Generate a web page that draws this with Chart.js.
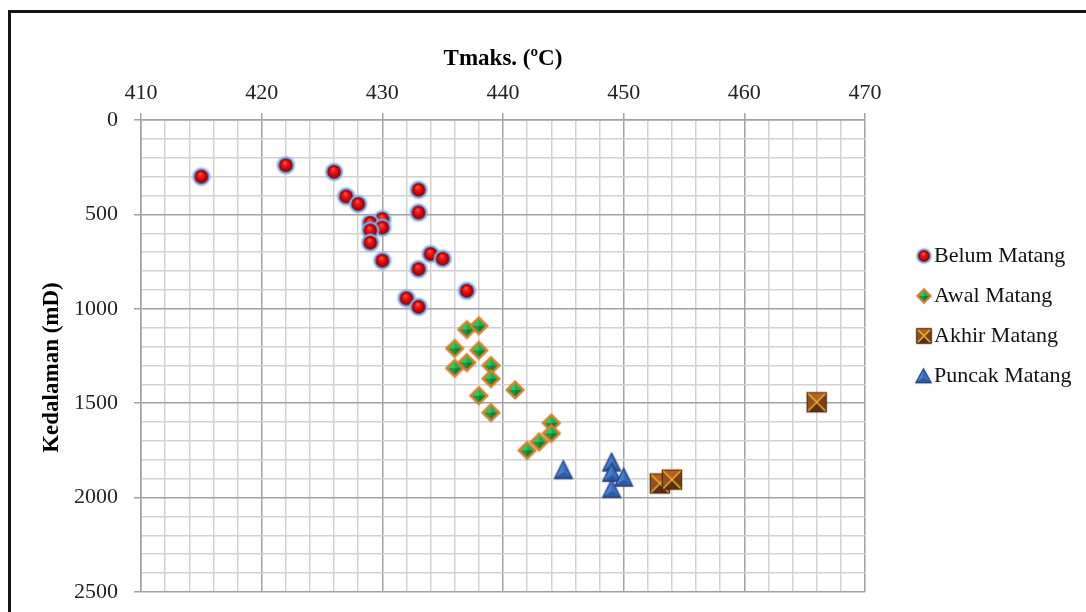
<!DOCTYPE html>
<html>
<head>
<meta charset="utf-8">
<script src="https://cdn.jsdelivr.net/npm/chart.js@4/dist/chart.umd.min.js"></script>
<style>
  html, body { margin: 0; padding: 0; background: #fff; overflow: hidden; }
  #wrap { position: relative; width: 1086px; height: 612px; overflow: hidden; }
  #frame { position: absolute; left: 8px; top: 10px; width: 1200px; height: 800px;
           border-left: 3px solid #151515; border-top: 3px solid #151515; }
  #c { position: absolute; left: 0; top: 0; }
</style>
</head>
<body>
<div id="wrap">
  <div id="frame"></div>
  <canvas id="c" width="1086" height="612"></canvas>
</div>
<script>
// Tmax (°C) against depth (mD), grouped by maturity stage
const seriesNames = ['Belum Matang', 'Awal Matang', 'Akhir Matang', 'Puncak Matang'];

const belumTmaks = [415, 422, 426, 433, 427, 428, 433, 430, 429, 430, 429, 429, 434, 435, 430, 433, 437, 432, 433];
const belumDepth = [300, 240, 275, 370, 405, 445, 490, 525, 545, 570, 585, 650, 710, 735, 745, 790, 905, 945, 990];

const awalTmaks = [437, 438, 436, 438, 437, 436, 439, 439, 441, 438, 439, 444, 444, 443, 442];
const awalDepth = [1110, 1090, 1210, 1220, 1285, 1315, 1300, 1370, 1430, 1460, 1550, 1605, 1660, 1705, 1750];

const akhirTmaks = [453, 454, 466];
const akhirDepth = [1925, 1905, 1495];

const puncakTmaks = [445, 449, 449, 450, 449];
const puncakDepth = [1850, 1810, 1865, 1890, 1950];

const tmaksTicks = [410, 420, 430, 440, 450, 460, 470];
const depthTicks = [0, 500, 1000, 1500, 2000, 2500];

const SERIF = "'Liberation Serif', 'Times New Roman', serif";

// ---------- marker sprites ----------
function makeCanvas(w, h) {
  const c = document.createElement('canvas');
  c.width = w; c.height = h;
  return c;
}

function drawBall(g, cx, cy, r) {
  g.save();
  g.shadowColor = 'rgba(80,130,200,0.6)';
  g.shadowBlur = 2;
  const rim = g.createRadialGradient(cx, cy, r * 0.6, cx, cy, r);
  rim.addColorStop(0, '#4a7ec6');
  rim.addColorStop(1, '#a2c2ea');
  g.beginPath(); g.arc(cx, cy, r, 0, Math.PI * 2);
  g.fillStyle = rim; g.fill();
  g.restore();
  const ri = r * 0.76;
  const body = g.createRadialGradient(cx - ri * 0.15, cy - ri * 0.45, ri * 0.05, cx, cy + ri * 0.1, ri * 1.05);
  body.addColorStop(0, '#ff5a4e');
  body.addColorStop(0.3, '#ee1a18');
  body.addColorStop(0.75, '#b30006');
  body.addColorStop(1, '#650003');
  g.beginPath(); g.arc(cx, cy, ri, 0, Math.PI * 2);
  g.fillStyle = body; g.fill();
}

function tri(g, a, b, c, color) {
  g.beginPath(); g.moveTo(a[0], a[1]); g.lineTo(b[0], b[1]); g.lineTo(c[0], c[1]); g.closePath();
  g.fillStyle = color; g.fill();
}

function drawDiamond(g, cx, cy, r) {
  g.save();
  g.shadowColor = 'rgba(120,70,20,0.45)'; g.shadowBlur = 1.5;
  g.beginPath();
  g.moveTo(cx, cy - r); g.lineTo(cx + r, cy); g.lineTo(cx, cy + r); g.lineTo(cx - r, cy); g.closePath();
  g.fillStyle = '#d9802e'; g.fill();
  g.restore();
  const ri = r * 0.66;
  const T = [cx, cy - ri], R = [cx + ri, cy], B = [cx, cy + ri], L = [cx - ri, cy], C = [cx, cy];
  tri(g, L, T, C, '#34c45e');
  tri(g, T, R, C, '#1fae4c');
  tri(g, R, B, C, '#0d8236');
  tri(g, B, L, C, '#149a40');
}

function drawBox(g, cx, cy, h) {
  const x0 = cx - h, x1 = cx + h, y0 = cy - h, y1 = cy + h, C = [cx, cy];
  g.save();
  g.shadowColor = 'rgba(60,40,20,0.5)'; g.shadowBlur = 1.5;
  g.fillStyle = '#4a2808';
  g.fillRect(x0, y0, 2 * h, 2 * h);
  g.restore();
  const i = 1;
  tri(g, [x0 + i, y0 + i], [x1 - i, y0 + i], C, '#b5621e');
  tri(g, [x0 + i, y0 + i], [x0 + i, y1 - i], C, '#94501a');
  tri(g, [x1 - i, y0 + i], [x1 - i, y1 - i], C, '#7a3e12');
  tri(g, [x0 + i, y1 - i], [x1 - i, y1 - i], C, '#5e2e0c');
  g.strokeStyle = '#f0b232';
  g.lineWidth = 1.4;
  g.beginPath();
  g.moveTo(x0 + 1.5, y0 + 1.5); g.lineTo(x1 - 1.5, y1 - 1.5);
  g.moveTo(x1 - 1.5, y0 + 1.5); g.lineTo(x0 + 1.5, y1 - 1.5);
  g.stroke();
}

function drawTriangle(g, cx, cy, w, h) {
  const T = [cx, cy - h / 2], BL = [cx - w / 2, cy + h / 2], BR = [cx + w / 2, cy + h / 2];
  g.save();
  g.shadowColor = 'rgba(20,40,90,0.5)'; g.shadowBlur = 1.5;
  tri(g, T, BL, BR, '#23447f');
  g.restore();
  const C = [cx, cy + h / 6];
  const s = 0.78;
  const t = [cx, C[1] + (T[1] - C[1]) * s], bl = [C[0] + (BL[0] - C[0]) * s, C[1] + (BL[1] - C[1]) * s],
        br = [C[0] + (BR[0] - C[0]) * s, C[1] + (BR[1] - C[1]) * s];
  tri(g, t, bl, C, '#4c80d2');
  tri(g, t, br, C, '#3a6cc0');
  tri(g, bl, br, C, '#2d5aa6');
}

function sprite(w, h, draw) {
  const c = makeCanvas(w, h);
  draw(c.getContext('2d'));
  return c;
}

// markers on the plot
const plotIcons = [
  sprite(22, 22, g => drawBall(g, 11, 11, 8.9)),
  sprite(22, 22, g => drawDiamond(g, 11, 11, 9.8)),
  sprite(24, 24, g => drawBox(g, 12, 12, 10.2)),
  sprite(24, 24, g => drawTriangle(g, 12, 12, 19.5, 19.5))
];

// smaller markers for the legend, offset to sit just left of the text
const LEG_W = 60, LEG_H = 22, LEG_X = 51;
const legendIcons = [
  sprite(LEG_W, LEG_H, g => drawBall(g, LEG_X, 11, 7.6)),
  sprite(LEG_W, LEG_H, g => drawDiamond(g, LEG_X, 11, 7.9)),
  sprite(LEG_W, LEG_H, g => drawBox(g, LEG_X, 11, 7.7)),
  sprite(LEG_W, LEG_H, g => drawTriangle(g, LEG_X - 0.5, 10.5, 17, 15.5))
];

// legend geometry: box width + gap, and a right padding that keeps the plot edge fixed
const LEGEND_FONT = 22, LEGEND_PAD = 18, LEGEND_BOX = 40, PLOT_RIGHT = 865, CANVAS_W = 1086;
const measureCtx = makeCanvas(10, 10).getContext('2d');
measureCtx.font = LEGEND_FONT + 'px ' + SERIF;
const legendTextW = Math.max(...seriesNames.map(s => measureCtx.measureText(s).width));
const legendW = LEGEND_PAD + LEGEND_BOX + LEGEND_FONT / 2 + legendTextW + 10;
const rightPad = Math.max(0, CANVAS_W - PLOT_RIGHT - legendW);

function pts(xs, ys) { return xs.map((x, i) => ({ x: x, y: ys[i] })); }

const majorGrid = '#a2a2a2';
const minorGrid = '#d2d2d2';

const datasets = [
  { label: seriesNames[0], data: pts(belumTmaks, belumDepth), pointStyle: plotIcons[0] },
  { label: seriesNames[1], data: pts(awalTmaks, awalDepth), pointStyle: plotIcons[1] },
  { label: seriesNames[2], data: pts(akhirTmaks, akhirDepth), pointStyle: plotIcons[2] },
  { label: seriesNames[3], data: pts(puncakTmaks, puncakDepth), pointStyle: plotIcons[3] }
].map(d => Object.assign(d, { pointRadius: 9, showLine: false }));

new Chart(document.getElementById('c'), {
  type: 'scatter',
  data: { datasets: datasets },
  options: {
    responsive: false,
    devicePixelRatio: 1,
    animation: false,
    events: [],
    layout: { padding: { top: 40, bottom: 20, left: 0, right: rightPad } },
    scales: {
      x: {
        type: 'linear',
        position: 'top',
        min: tmaksTicks[0],
        max: tmaksTicks[tmaksTicks.length - 1],
        afterFit: s => { s.height = 80; s.paddingLeft = 0; s.paddingRight = 0; },
        ticks: {
          stepSize: 2,
          autoSkip: false,
          maxRotation: 0,
          padding: 7,
          color: '#222',
          font: { family: SERIF, size: 22 },
          callback: v => tmaksTicks.includes(v) ? String(v) : ''
        },
        grid: {
          lineWidth: 1.5,
          color: c => (c.tick && tmaksTicks.includes(c.tick.value)) ? majorGrid : minorGrid,
          tickColor: c => (c.tick && tmaksTicks.includes(c.tick.value)) ? majorGrid : 'rgba(0,0,0,0)',
          tickLength: 7,
          tickWidth: 1.5
        },
        border: { color: majorGrid, width: 1.5 },
        title: {
          display: true,
          text: 'Tmaks. (ºC)',
          color: '#000',
          font: { family: SERIF, size: 23, weight: 'bold' },
          padding: { top: 5, bottom: 0 }
        }
      },
      y: {
        type: 'linear',
        reverse: true,
        min: depthTicks[0],
        max: depthTicks[depthTicks.length - 1],
        afterFit: s => { s.width = 141; s.paddingTop = 0; s.paddingBottom = 0; },
        ticks: {
          stepSize: 100,
          autoSkip: false,
          padding: 16,
          color: '#222',
          font: { family: SERIF, size: 22 },
          callback: v => depthTicks.includes(v) ? String(v) : ''
        },
        grid: {
          lineWidth: 1.5,
          color: c => (c.tick && depthTicks.includes(c.tick.value)) ? majorGrid : minorGrid,
          tickColor: c => (c.tick && depthTicks.includes(c.tick.value)) ? majorGrid : 'rgba(0,0,0,0)',
          tickLength: 7,
          tickWidth: 1.5
        },
        border: { color: majorGrid, width: 1.5 },
        title: {
          display: true,
          text: 'Kedalaman (mD)    ',
          color: '#000',
          font: { family: SERIF, size: 23, weight: 'bold' },
          padding: { top: 38, bottom: 0 }
        }
      }
    },
    plugins: {
      tooltip: { enabled: false },
      legend: {
        display: true,
        position: 'right',
        maxWidth: CANVAS_W - PLOT_RIGHT,
        onClick: null,
        labels: {
          usePointStyle: true,
          pointStyleWidth: LEGEND_BOX,
          padding: LEGEND_PAD,
          color: '#111',
          font: { family: SERIF, size: LEGEND_FONT },
          generateLabels: chart => {
            const items = Chart.defaults.plugins.legend.labels.generateLabels(chart);
            items.forEach((it, i) => { it.pointStyle = legendIcons[i]; });
            return items;
          }
        }
      }
    }
  }
});
</script>
</body>
</html>
